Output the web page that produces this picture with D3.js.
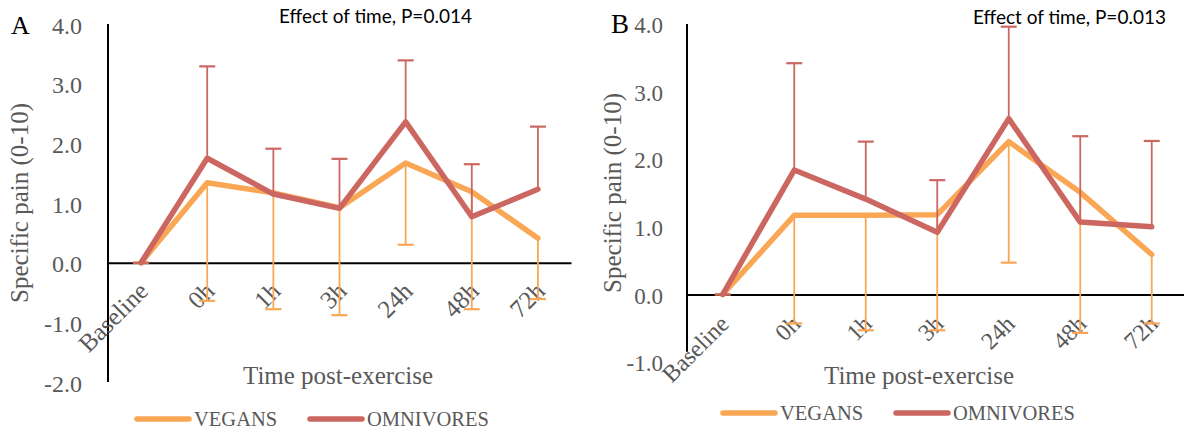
<!DOCTYPE html>
<html>
<head>
<meta charset="utf-8">
<script src="https://cdn.jsdelivr.net/npm/d3@7"></script>
<style>
  html, body { margin: 0; padding: 0; background: #fff; }
  svg { display: block; }
</style>
</head>
<body>
<svg id="chart" width="1184" height="435"></svg>
<script>
// Time points shared by both panels
const timepoints = ["Baseline", "0h", "1h", "3h", "24h", "48h", "72h"];

// Panel A: mean specific pain and SD
const vegansA      = [0, 1.34, 1.17, 0.92, 1.67, 1.19, 0.41];
const vegansSdA    = [0, 1.98, 1.95, 1.80, 1.37, 1.97, 1.02];
const omnivoresA   = [0, 1.75, 1.15, 0.91, 2.36, 0.77, 1.23];
const omnivoresSdA = [0, 1.54, 0.76, 0.83, 1.03, 0.88, 1.05];

// Panel B: mean specific pain and SD
const vegansB      = [0, 1.17, 1.17, 1.18, 2.26, 1.51, 0.59];
const vegansSdB    = [0, 1.60, 1.70, 1.71, 1.79, 2.08, 1.02];
const omnivoresB   = [0, 1.84, 1.41, 0.92, 2.60, 1.07, 1.00];
const omnivoresSdB = [0, 1.58, 0.85, 0.77, 1.36, 1.27, 1.27];

// Y tick labels
const yTicksA = [-2, -1, 0, 1, 2, 3, 4];
const yTicksB = [-1, 0, 1, 2, 3, 4];

const seriesNames = ["VEGANS", "OMNIVORES"];
const effectA = "Effect of time, P=0.014";
const effectB = "Effect of time, P=0.013";
const yTitle = "Specific pain (0-10)";
const xTitle = "Time post-exercise";

const COLORS = { VEGANS: "#FAA755", OMNIVORES: "#CC6660" };
const GRAY = "#595959";
const SERIF = "'Liberation Serif', 'Times New Roman', serif";
const SANS = "Lato, 'Open Sans', sans-serif";

const svg = d3.select("#chart");

function drawPanel(p) {
  const g = svg.append("g");
  const x = d3.scalePoint().domain(timepoints).range([p.x0, p.x1]).padding(0.5);
  const y = d3.scaleLinear().domain(p.yDomain).range([p.yBottom, p.yTop]);

  // Y axis tick labels
  const ya = g.append("g")
    .attr("transform", `translate(${p.x0},0)`)
    .call(d3.axisLeft(y).tickValues(p.yTicks).tickFormat(d => d.toFixed(1))
      .tickSize(0).tickPadding(p.yPad));
  ya.select(".domain").remove();
  ya.selectAll("text")
    .attr("font-family", SERIF).attr("font-size", p.tickFont)
    .attr("fill", GRAY).attr("dy", "0.38em");

  // Vertical axis line
  g.append("line")
    .attr("x1", p.x0).attr("x2", p.x0)
    .attr("y1", y(p.yDomain[1])).attr("y2", y(p.axisEndValue))
    .attr("stroke", "#000").attr("stroke-width", 2);

  // Category axis along zero
  const xa = g.append("g")
    .attr("transform", `translate(0,${y(0)})`)
    .call(d3.axisBottom(x).tickSize(0).tickSizeOuter(0));
  xa.select(".domain").attr("stroke", "#000").attr("stroke-width", 2);
  xa.selectAll("text")
    .attr("font-family", SERIF).attr("font-size", p.catFont).attr("fill", GRAY)
    .attr("text-anchor", "end").attr("x", 0).attr("y", 0).attr("dy", 0)
    .attr("transform", `translate(${p.catDx},${p.catDy}) rotate(-45)`);

  const series = [
    { name: "VEGANS", vals: p.vegans, sd: p.vegansSd, dir: -1 },
    { name: "OMNIVORES", vals: p.omnivores, sd: p.omnivoresSd, dir: 1 }
  ];

  const line = d3.line().x((d, i) => x(timepoints[i])).y(d => y(d));

  series.forEach(s => {
    const color = COLORS[s.name];
    // Error bars (vegans below the mean, omnivores above)
    const eb = g.append("g").attr("stroke", color).attr("stroke-width", 1.8);
    s.vals.forEach((v, i) => {
      const cx = x(timepoints[i]);
      const end = y(v + s.dir * s.sd[i]);
      eb.append("line").attr("x1", cx).attr("x2", cx).attr("y1", y(v)).attr("y2", end);
      eb.append("line").attr("x1", cx - 8).attr("x2", cx + 8).attr("y1", end).attr("y2", end)
        .attr("stroke-width", 2.2);
    });
    g.append("path")
      .datum(s.vals)
      .attr("d", line)
      .attr("fill", "none")
      .attr("stroke", color)
      .attr("stroke-width", 5.5)
      .attr("stroke-linejoin", "round")
      .attr("stroke-linecap", "round");
  });

  // Axis titles
  g.append("text")
    .attr("transform", `translate(${p.yTitleX},${p.yTitleY}) rotate(-90)`)
    .attr("text-anchor", "middle").attr("dy", "0.35em")
    .attr("font-family", SERIF).attr("font-size", p.titleFont).attr("fill", GRAY)
    .text(yTitle);
  g.append("text")
    .attr("x", p.xTitleX).attr("y", p.xTitleY)
    .attr("text-anchor", "middle")
    .attr("font-family", SERIF).attr("font-size", p.titleFont).attr("fill", GRAY)
    .text(xTitle);

  // Panel letter
  g.append("text")
    .attr("x", p.letterX).attr("y", p.letterY)
    .attr("font-family", SERIF).attr("font-size", p.letterFont).attr("fill", "#000")
    .text(p.letter);

  // Statistics note
  g.append("text")
    .attr("x", p.effectX).attr("y", p.effectY)
    .attr("font-family", SANS).attr("font-size", p.effectFont).attr("fill", "#000")
    .text(p.effect);

  // Legend
  const lg = g.append("g").attr("transform", `translate(${p.legendX},${p.legendY})`);
  seriesNames.forEach((name, i) => {
    const ox = i * p.legendGap;
    lg.append("line")
      .attr("x1", ox).attr("x2", ox + 52).attr("y1", 0).attr("y2", 0)
      .attr("stroke", COLORS[name]).attr("stroke-width", 5.5).attr("stroke-linecap", "round");
    lg.append("text")
      .attr("x", ox + 57).attr("y", 0).attr("dy", "0.35em")
      .attr("font-family", SERIF).attr("font-size", p.legendFont).attr("fill", GRAY)
      .text(name);
  });
}

drawPanel({
  letter: "A", effect: effectA,
  vegans: vegansA, vegansSd: vegansSdA, omnivores: omnivoresA, omnivoresSd: omnivoresSdA,
  yTicks: yTicksA, yDomain: [-2, 4], axisEndValue: -2,
  x0: 108, x1: 571, yTop: 24, yBottom: 382,
  yPad: 26, tickFont: 24, catFont: 25, catDx: 8, catDy: 30,
  titleFont: 25, yTitleX: 19, yTitleY: 203, xTitleX: 338, xTitleY: 384,
  letterX: 11, letterY: 34, letterFont: 26,
  effectX: 279, effectY: 23, effectFont: 19,
  legendX: 137, legendY: 419, legendGap: 173, legendFont: 20.5
});

drawPanel({
  letter: "B", effect: effectB,
  vegans: vegansB, vegansSd: vegansSdB, omnivores: omnivoresB, omnivoresSd: omnivoresSdB,
  yTicks: yTicksB, yDomain: [-1, 4], axisEndValue: -0.85,
  x0: 687, x1: 1187.5, yTop: 24, yBottom: 362,
  yPad: 24, tickFont: 23, catFont: 24, catDx: 7, catDy: 31,
  titleFont: 25, yTitleX: 612, yTitleY: 193, xTitleX: 919, xTitleY: 384,
  letterX: 611, letterY: 33, letterFont: 27,
  effectX: 973, effectY: 24, effectFont: 19,
  legendX: 723, legendY: 413, legendGap: 173, legendFont: 20.5
});
</script>
</body>
</html>
